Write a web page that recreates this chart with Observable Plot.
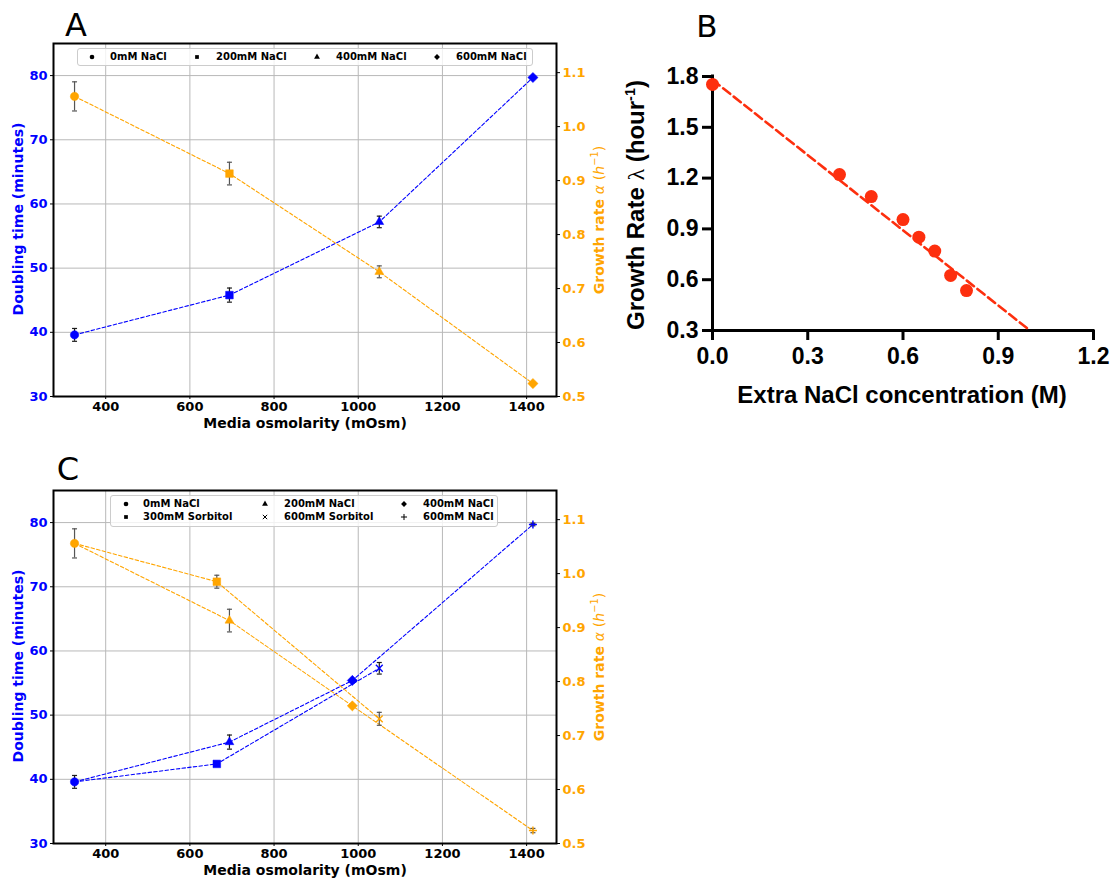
<!DOCTYPE html>
<html><head><meta charset="utf-8">
<script src="https://cdn.jsdelivr.net/npm/d3@7"></script>
<script src="https://cdn.jsdelivr.net/npm/@observablehq/plot@0.6"></script>
<style>
body{margin:0;background:#fff;}
#root{position:relative;width:1111px;height:878px;overflow:hidden;background:#fff;}
.lbl{position:absolute;white-space:nowrap;line-height:1;transform:translate(-50%,-50%);}
.rot{transform:translate(-50%,-50%) rotate(-90deg);}
.dv{font-family:"DejaVu Sans";font-weight:bold;}
.ls{font-family:"Liberation Sans";font-weight:bold;}
.legend{position:absolute;background:rgba(255,255,255,0.8);border:1px solid #cccccc;border-radius:3px;box-sizing:border-box;}
</style></head><body><div id="root"></div><script>
// ---------- Panel A data ----------
const osmA = [326, 694, 1050, 1415];
const doublingA = [39.6, 45.8, 57.2, 79.7];
const doublingErrA = [1.0, 1.1, 0.9, 0];
const rateA = [1.056, 0.913, 0.731, 0.524];
const rateErrA = [0.027, 0.021, 0.011, 0];
const symbolsA = ["circle", "square", "triangle", "diamond2"];
const labelsA = ["0mM NaCl", "200mM NaCl", "400mM NaCl", "600mM NaCl"];
const pathsA = [[0, 1, 2, 3]];

// ---------- Panel B data ----------
const naclB = [0, 0.4, 0.5, 0.6, 0.65, 0.7, 0.75, 0.8];
const lambdaB = [1.753, 1.221, 1.091, 0.955, 0.851, 0.769, 0.625, 0.536];
const fitXB = [0, 1.0];
const fitYB = [1.78, 0.30];
const ticksXB = [0, 0.3, 0.6, 0.9, 1.2];
const ticksYB = [0.3, 0.6, 0.9, 1.2, 1.5, 1.8];

// ---------- Panel C data ----------
const osmC = [326, 664, 694, 986, 1050, 1415];
const doublingC = [39.6, 42.4, 45.8, 55.4, 57.3, 79.7];
const doublingErrC = [1.0, 0, 1.1, 0, 0.9, 0.2];
const rateC = [1.056, 0.985, 0.913, 0.755, 0.731, 0.524];
const rateErrC = [0.027, 0.012, 0.021, 0, 0.012, 0.004];
const symbolsC = ["circle", "square", "triangle", "diamond2", "times", "plus"];
const pathsC = [[0, 2, 3, 5], [0, 1, 4]];
const labelsC = ["0mM NaCl", "300mM Sorbitol", "200mM NaCl", "600mM Sorbitol", "400mM NaCl", "600mM NaCl"];
const legendSymbolsC = ["circle", "square", "triangle", "times", "diamond2", "plus"];

// shared ticks
const ticksOsm = [400, 600, 800, 1000, 1200, 1400];
const ticksDoubling = [30, 40, 50, 60, 70, 80];
const ticksRate = [0.5, 0.6, 0.7, 0.8, 0.9, 1.0, 1.1];

const BLUE = "#0000ff", ORANGE = "#ffa500", RED = "#fd2f0e";
const root = document.getElementById("root");

const capSymbol = {draw(ctx, size) { const w = Math.sqrt(size / Math.PI); ctx.moveTo(-w, 0); ctx.lineTo(w, 0); }};
const rOf = {circle: 4.2, square: 4.3, triangle: 3.3, diamond2: 4.6, times: 3.2, plus: 2.7};
const isStroked = s => s === "times" || s === "plus";

function addSvg(svg, left, top) {
  svg.style.position = "absolute";
  svg.style.left = left + "px";
  svg.style.top = top + "px";
  svg.style.background = "transparent";
  svg.style.overflow = "visible";
  root.appendChild(svg);
}
function addLabel(html, cx, cy, cls, css = {}, rotate = false) {
  const d = document.createElement("div");
  d.className = "lbl " + cls + (rotate ? " rot" : "");
  d.innerHTML = html;
  d.style.left = cx + "px"; d.style.top = cy + "px";
  Object.assign(d.style, css);
  root.appendChild(d);
}

function seriesMarks(osm, vals, errs, symbols, paths, color, errColor) {
  const idx = d3.range(osm.length);
  const eidx = idx.filter(i => errs[i] > 0);
  return [
    ...paths.map(p => Plot.line(p, {x: i => osm[i], y: i => vals[i], stroke: color, strokeWidth: 1.1, strokeDasharray: "3.5,2.2"})),
    Plot.ruleX(eidx, {x: i => osm[i], y1: i => vals[i] - errs[i], y2: i => vals[i] + errs[i], stroke: errColor, strokeWidth: 1.2}),
    Plot.dot(eidx, {x: i => osm[i], y: i => vals[i] - errs[i], symbol: capSymbol, r: 2.5, stroke: errColor, fill: "none", strokeWidth: 1.2}),
    Plot.dot(eidx, {x: i => osm[i], y: i => vals[i] + errs[i], symbol: capSymbol, r: 2.5, stroke: errColor, fill: "none", strokeWidth: 1.2}),
    ...idx.map(i => Plot.dot([i], {
      x: j => osm[j], y: j => vals[j], symbol: symbols[i], r: rOf[symbols[i]],
      fill: isStroked(symbols[i]) ? "none" : color, stroke: color,
      strokeWidth: isStroked(symbols[i]) ? 1.4 : 0.5
    }))
  ];
}

function dualPanel(top, osm, dt, dtErr, gr, grErr, symbols, paths) {
  const base = {width: 620, height: 440, marginLeft: 53, marginRight: 64, marginTop: 43, marginBottom: 44,
    style: {fontFamily: "DejaVu Sans", fontSize: "13px", fontWeight: "bold", background: "transparent", overflow: "visible"}};
  const xScale = {domain: [276, 1471], axis: null};
  const blue = Plot.plot({
    ...base, x: xScale, y: {domain: [30, 85], axis: null},
    marks: [
      Plot.gridX({ticks: ticksOsm, stroke: "#b8b8b8", strokeOpacity: 1, strokeWidth: 1}),
      Plot.gridY({ticks: ticksDoubling.slice(1), stroke: "#b8b8b8", strokeOpacity: 1, strokeWidth: 1}),
      Plot.axisX({ticks: ticksOsm, tickFormat: d3.format("d"), tickSize: 3, tickPadding: 2, label: null, fill: "black", stroke: "black"}),
      Plot.axisY({ticks: ticksDoubling, tickFormat: d3.format("d"), tickSize: 3, tickPadding: 3, label: null, fill: BLUE, stroke: "black"}),
      ...seriesMarks(osm, dt, dtErr, symbols, paths, BLUE, "#1a1a1a")
    ]
  });
  addSvg(blue, 0, top);
  const orange = Plot.plot({
    ...base, x: xScale, y: {domain: [0.5, 1.154], axis: null},
    marks: [
      Plot.axisY({anchor: "right", ticks: ticksRate, tickFormat: d3.format(".1f"), tickSize: 3, tickPadding: 3, label: null, fill: ORANGE, stroke: "black"}),
      ...seriesMarks(osm, gr, grErr, symbols, paths, ORANGE, "#555555"),
      Plot.frame({stroke: "black", strokeWidth: 2})
    ]
  });
  addSvg(orange, 0, top);
  addLabel("Media osmolarity (mOsm)", 305, top + 423, "dv", {fontSize: "14px"});
  addLabel("Doubling time (minutes)", 18, top + 219, "dv", {fontSize: "14px", color: BLUE}, true);
  addLabel('Growth rate <i style="font-family:\'DejaVu Sans\';font-weight:normal">α</i> <span style="font-weight:normal">(</span><i style="font-weight:normal">h</i><sup style="font-size:0.7em;font-weight:normal">−1</sup><span style="font-weight:normal">)</span>',
    598, top + 220, "dv", {fontSize: "14px", color: ORANGE}, true);
}

const symType = {circle: d3.symbolCircle, square: d3.symbolSquare, triangle: d3.symbolTriangle,
  diamond2: d3.symbolDiamond2, times: d3.symbolX, plus: d3.symbolPlus};
const symSize = {circle: 17, square: 14, triangle: 15, diamond2: 22, times: 14, plus: 14};
function addLegend(box, items) {
  const div = document.createElement("div");
  div.className = "legend";
  Object.assign(div.style, {left: box.x + "px", top: box.y + "px", width: box.w + "px", height: box.h + "px"});
  root.appendChild(div);
  items.forEach(it => {
    const s = d3.select(root).append("svg").attr("width", 10).attr("height", 10)
      .style("position", "absolute").style("left", (it.mx - 5) + "px").style("top", (it.y - 5) + "px").style("overflow", "visible");
    const st = isStroked(it.sym);
    s.append("path").attr("transform", "translate(5,5)").attr("d", d3.symbol(symType[it.sym], symSize[it.sym])())
      .attr("fill", st ? "none" : "black").attr("stroke", st ? "black" : "none").attr("stroke-width", 1);
    const t = document.createElement("div");
    t.className = "dv"; t.textContent = it.label;
    Object.assign(t.style, {position: "absolute", left: it.tx + "px", top: it.y + "px", transform: "translateY(-50%)",
      fontSize: "10px", lineHeight: "1", whiteSpace: "nowrap"});
    root.appendChild(t);
  });
}

// ---------- Panel A ----------
dualPanel(0, osmA, doublingA, doublingErrA, rateA, rateErrA, symbolsA, pathsA);
addLegend({x: 77, y: 48, w: 456, h: 18}, labelsA.map((l, i) => ({
  label: l, sym: symbolsA[i], mx: [92, 197, 317, 437][i], tx: [110, 216, 336, 456][i], y: 56.5})));
addLabel("A", 76, 25, "", {fontFamily: "DejaVu Sans", fontSize: "32px"});

// ---------- Panel C ----------
dualPanel(447, osmC, doublingC, doublingErrC, rateC, rateErrC, symbolsC, pathsC);
addLegend({x: 110, y: 495, w: 388, h: 32}, labelsC.map((l, i) => ({
  label: l, sym: legendSymbolsC[i], mx: [126, 126, 265, 265, 404, 404][i], tx: [143, 143, 284, 284, 423, 423][i],
  y: i % 2 === 0 ? 504 : 517})));
addLabel("C", 68, 469, "", {fontFamily: "DejaVu Sans", fontSize: "32px"});

// ---------- Panel B ----------
const bIdx = d3.range(naclB.length);
const fIdx = d3.range(fitXB.length);
const plotB = Plot.plot({
  width: 511, height: 430, marginLeft: 112, marginRight: 18, marginTop: 76, marginBottom: 100,
  style: {fontFamily: "Liberation Sans", fontSize: "23px", fontWeight: "bold", background: "transparent", overflow: "visible"},
  x: {domain: [0, 1.2], axis: null}, y: {domain: [0.3, 1.8], axis: null},
  marks: [
    Plot.axisX({ticks: ticksXB, tickFormat: d3.format(".1f"), tickSize: 10, tickPadding: 7, strokeWidth: 3, label: null, stroke: "black", fill: "black"}),
    Plot.axisY({ticks: ticksYB, tickFormat: d3.format(".1f"), tickSize: 10, tickPadding: 4, strokeWidth: 3, label: null, stroke: "black", fill: "black"}),
    Plot.ruleX([0], {stroke: "black", strokeWidth: 3, strokeLinecap: "square"}),
    Plot.ruleY([0.3], {stroke: "black", strokeWidth: 3, strokeLinecap: "square"}),
    Plot.line(fIdx, {x: i => fitXB[i], y: i => fitYB[i], stroke: RED, strokeWidth: 2.6, strokeDasharray: "9,4.5"}),
    Plot.dot(bIdx, {x: i => naclB[i], y: i => lambdaB[i], r: 6.5, fill: RED, stroke: "none"})
  ]
});
addSvg(plotB, 600, 0);
addLabel("B", 707, 26, "", {fontFamily: "DejaVu Sans", fontSize: "31px"});
addLabel("Extra NaCl concentration (M)", 902, 395, "ls", {fontSize: "24px"});
addLabel('Growth Rate <span style="font-family:\'Liberation Serif\';font-weight:normal">λ</span> (hour<sup style="font-size:0.6em">-1</sup>)', 635, 205, "ls", {fontSize: "24px"}, true);
</script></body></html>
